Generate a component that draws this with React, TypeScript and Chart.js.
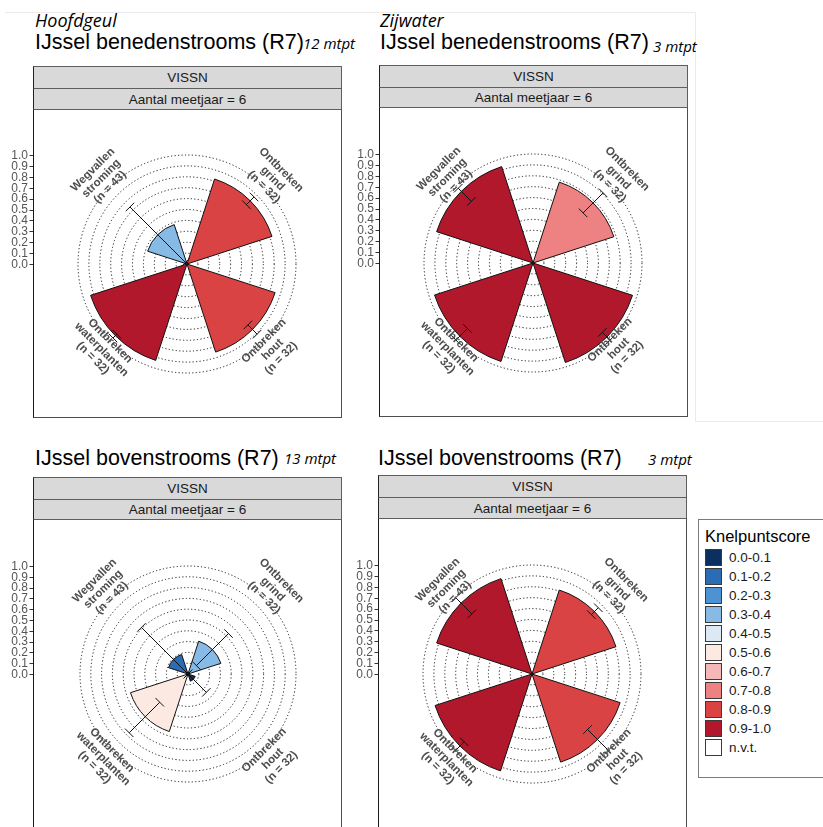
import React, { useEffect, useRef } from 'react';
import { Chart, registerables } from 'chart.js';

Chart.register(...registerables);

// ---------------- data ----------------
const categories = ['Ontbreken grind', 'Ontbreken hout', 'Ontbreken waterplanten', 'Wegvallen stroming'];
const categoryLines: string[][] = [
  ['Ontbreken', 'grind', '(n = 32)'],
  ['Ontbreken', 'hout', '(n = 32)'],
  ['Ontbreken', 'waterplanten', '(n = 32)'],
  ['Wegvallen', 'stroming', '(n = 43)'],
];
const radialTicks = [0, 0.1, 0.2, 0.3, 0.4, 0.5, 0.6, 0.7, 0.8, 0.9, 1.0];
const radialTickLabels = ['0.0', '0.1', '0.2', '0.3', '0.4', '0.5', '0.6', '0.7', '0.8', '0.9', '1.0'];

// Hoofdgeul – IJssel benedenstrooms (R7)
const hoofdBenedenValues = [0.82, 0.85, 0.93, 0.38];
const hoofdBenedenLow = [0.77, 0.79, 0.91, 0.02];
const hoofdBenedenHigh = [0.87, 0.91, 0.96, 0.74];
// Zijwater – IJssel benedenstrooms (R7)
const zijBenedenValues = [0.78, 0.96, 0.95, 0.93];
const zijBenedenLow = [0.65, 0.9, 0.85, 0.8];
const zijBenedenHigh = [0.91, 1.0, 1.0, 0.97];
// Hoofdgeul – IJssel bovenstrooms (R7)
const hoofdBovenValues = [0.32, 0.07, 0.56, 0.19];
const hoofdBovenLow = [0.11, 0.0, 0.37, 0.0];
const hoofdBovenHigh = [0.53, 0.24, 0.77, 0.61];
// Zijwater – IJssel bovenstrooms (R7)
const zijBovenValues = [0.81, 0.85, 0.935, 0.92];
const zijBovenLow = [0.77, 0.72, 0.88, 0.78];
const zijBovenHigh = [0.86, 0.99, 0.99, 0.99];

const binLabels = ['0.0-0.1', '0.1-0.2', '0.2-0.3', '0.3-0.4', '0.4-0.5', '0.5-0.6', '0.6-0.7', '0.7-0.8', '0.8-0.9', '0.9-1.0', 'n.v.t.'];
const binColors = ['#0B2F5E', '#2B6CB5', '#4D92D2', '#87BBE6', '#DCE9F4', '#FCEAE2', '#F5B7B7', '#EE8181', '#DA4343', '#B1182B', '#FFFFFF'];

// wedge geometry (degrees)
const wedgeAngle = 54;
const gapAngle = 36;
const firstWedgeStart = 18;

function colorFor(v: number) {
  const idx = Math.min(9, Math.max(0, Math.floor(v * 10 + 1e-9)));
  return binColors[idx];
}

const SANS = '"Liberation Sans", Arial, Helvetica, sans-serif';
const OPEN = '"Open Sans", "Liberation Sans", sans-serif';

type PanelSpec = {
  left: number; right: number; stripTop: number; stripMid: number; stripBot: number; plotBottom: number;
  cx: number; cy: number; R: number;
  values: number[]; low: number[]; high: number[];
};

const panels: PanelSpec[] = [
  { left: 33, right: 342, stripTop: 66, stripMid: 88, stripBot: 110, plotBottom: 418, cx: 187, cy: 264, R: 109,
    values: hoofdBenedenValues, low: hoofdBenedenLow, high: hoofdBenedenHigh },
  { left: 379, right: 688, stripTop: 65, stripMid: 87, stripBot: 108, plotBottom: 417, cx: 533, cy: 263, R: 109,
    values: zijBenedenValues, low: zijBenedenLow, high: zijBenedenHigh },
  { left: 33, right: 342, stripTop: 477, stripMid: 499, stripBot: 520, plotBottom: 829, cx: 188, cy: 674, R: 108,
    values: hoofdBovenValues, low: hoofdBovenLow, high: hoofdBovenHigh },
  { left: 378, right: 687, stripTop: 475, stripMid: 497, stripBot: 519, plotBottom: 829, cx: 532, cy: 674, R: 109,
    values: zijBovenValues, low: zijBovenLow, high: zijBovenHigh },
];

function makePlugin(spec: PanelSpec, axisX: number) {
  return {
    id: 'roseExtras',
    afterDatasetsDraw(chart: any) {
      const ctx = chart.ctx as CanvasRenderingContext2D;
      const scale = chart.scales.r;
      const meta = chart.getDatasetMeta(0);
      const xc = scale.xCenter;
      const yc = scale.yCenter;
      ctx.save();
      // error bars
      ctx.strokeStyle = '#111';
      ctx.lineWidth = 1;
      spec.values.forEach((_, i) => {
        const arc = meta.data[i * 2];
        const mid = (arc.startAngle + arc.endAngle) / 2;
        const r0 = scale.getDistanceFromCenterForValue(spec.low[i]);
        const r1 = scale.getDistanceFromCenterForValue(spec.high[i]);
        const c = Math.cos(mid), s = Math.sin(mid);
        const px = -s, py = c;
        const cap = 6;
        ctx.beginPath();
        ctx.moveTo(xc + r0 * c, yc + r0 * s);
        ctx.lineTo(xc + r1 * c, yc + r1 * s);
        [r0, r1].forEach((r) => {
          ctx.moveTo(xc + r * c - cap * px, yc + r * s - cap * py);
          ctx.lineTo(xc + r * c + cap * px, yc + r * s + cap * py);
        });
        ctx.stroke();
      });
      // category labels
      ctx.fillStyle = '#4D4D4D';
      ctx.font = `bold 11.5px ${SANS}`;
      ctx.textAlign = 'center';
      ctx.textBaseline = 'middle';
      const rl = scale.getDistanceFromCenterForValue(1.11);
      const lh = 12.2;
      categoryLines.forEach((lines, i) => {
        const arc = meta.data[i * 2];
        const mid = (arc.startAngle + arc.endAngle) / 2;
        const x = xc + rl * Math.cos(mid);
        const y = yc + rl * Math.sin(mid);
        const top = Math.sin(mid) < 0;
        const rot = top ? mid + Math.PI / 2 : mid - Math.PI / 2;
        ctx.save();
        ctx.translate(x, y);
        ctx.rotate(rot);
        lines.forEach((t, j) => ctx.fillText(t, 0, (j - 1) * lh));
        ctx.restore();
      });
      // left radial axis
      ctx.font = `12px ${SANS}`;
      ctx.textAlign = 'right';
      ctx.fillStyle = '#555555';
      ctx.strokeStyle = '#333';
      radialTicks.forEach((v, i) => {
        const y = yc - scale.getDistanceFromCenterForValue(v);
        ctx.fillText(radialTickLabels[i], axisX - 5, y + 0.5);
        ctx.beginPath();
        ctx.moveTo(axisX - 3.5, Math.round(y) + 0.5);
        ctx.lineTo(axisX, Math.round(y) + 0.5);
        ctx.stroke();
      });
      ctx.restore();
    },
  };
}

function PolarPanel({ spec }: { spec: PanelSpec }) {
  const ref = useRef<HTMLCanvasElement>(null);
  const canvasLeft = spec.left - 33;
  const canvasTop = spec.stripBot;
  const width = spec.right - canvasLeft;
  const height = spec.plotBottom - canvasTop;
  useEffect(() => {
    const cxc = spec.cx - canvasLeft;
    const cyc = spec.cy - canvasTop;
    const padding = {
      left: cxc - spec.R,
      right: width - cxc - spec.R,
      top: cyc - spec.R,
      bottom: height - cyc - spec.R,
    };
    const data: number[] = [];
    const bg: string[] = [];
    const bw: number[] = [];
    const ang: number[] = [];
    const labels: string[] = [];
    spec.values.forEach((v, i) => {
      data.push(v, 0);
      bg.push(colorFor(v), 'rgba(0,0,0,0)');
      bw.push(1, 0);
      ang.push(wedgeAngle, gapAngle);
      labels.push(categories[i], '');
    });
    const chart = new Chart(ref.current as HTMLCanvasElement, {
      type: 'polarArea',
      data: {
        labels,
        datasets: [
          {
            data,
            backgroundColor: bg,
            borderColor: '#111111',
            borderWidth: bw,
            angle: ang,
          } as any,
        ],
      },
      options: {
        responsive: false,
        animation: false,
        devicePixelRatio: 1,
        layout: { padding },
        plugins: { legend: { display: false }, tooltip: { enabled: false } },
        scales: {
          r: {
            min: 0,
            max: 1,
            startAngle: firstWedgeStart,
            ticks: { display: false, stepSize: 0.1 },
            grid: { circular: true, color: '#1a1a1a', lineWidth: 1 },
            border: { dash: [1.2, 2.3] },
            angleLines: { display: false },
            pointLabels: { display: false },
          } as any,
        },
      } as any,
      plugins: [makePlugin(spec, 33)],
    });
    return () => chart.destroy();
  }, []);
  return (
    <canvas
      ref={ref}
      width={width}
      height={height}
      style={{ position: 'absolute', left: canvasLeft, top: canvasTop, width, height }}
    />
  );
}

function Txt(props: { x: number; baseline: number; size: number; italic?: boolean; open?: boolean; children: any; color?: string }) {
  const ratio = props.open ? 0.888 : 0.8465;
  return (
    <div
      style={{
        position: 'absolute',
        left: props.x,
        top: props.baseline - ratio * props.size,
        fontSize: props.size,
        lineHeight: `${props.size}px`,
        fontFamily: props.open ? OPEN : SANS,
        fontStyle: props.italic ? 'italic' : 'normal',
        whiteSpace: 'nowrap',
        color: props.color || '#000',
      }}
    >
      {props.children}
    </div>
  );
}

function PanelFrame({ spec }: { spec: PanelSpec }) {
  const w = spec.right - spec.left;
  const stripStyle = (top: number, h: number) => ({
    position: 'absolute' as const,
    left: spec.left,
    top,
    width: w,
    height: h,
    boxSizing: 'border-box' as const,
    background: '#D9D9D9',
    border: '1px solid #5E5E5E',
    borderLeft: '1.5px solid #222',
    fontFamily: SANS,
    fontSize: 13.5,
    color: '#1A1A1A',
    display: 'flex',
    alignItems: 'center',
    justifyContent: 'center',
  });
  return (
    <>
      <div style={{
        position: 'absolute', left: spec.left, top: spec.stripBot - 1, width: w,
        height: spec.plotBottom - spec.stripBot + 1, boxSizing: 'border-box', background: '#fff',
        border: '1px solid #4D4D4D', borderLeft: '1.5px solid #1A1A1A',
      }} />
      <div style={stripStyle(spec.stripTop, spec.stripMid - spec.stripTop + 1)}>VISSN</div>
      <div style={stripStyle(spec.stripMid, spec.stripBot - spec.stripMid)}>Aantal meetjaar = 6</div>
    </>
  );
}

export default function App() {
  return (
    <div style={{ position: 'fixed', left: 0, top: 0, width: 823, height: 827, background: '#fff', overflow: 'hidden' }}>
      {/* faint frames of the source images */}
      <div style={{ position: 'absolute', left: 5, top: 12, width: 690, height: 1, background: '#EBEBEB' }} />
      <div style={{ position: 'absolute', left: 695, top: 12, width: 1, height: 409, background: '#EBEBEB' }} />
      <div style={{ position: 'absolute', left: 695, top: 421, width: 128, height: 1, background: '#EBEBEB' }} />

      <Txt x={35} baseline={27} size={18} italic open>Hoofdgeul</Txt>
      <Txt x={380} baseline={27} size={18} italic open>Zijwater</Txt>

      <Txt x={35} baseline={50} size={21.5}>IJssel benedenstrooms (R7)</Txt>
      <Txt x={303} baseline={49.5} size={15} italic open>12 mtpt</Txt>
      <Txt x={380} baseline={50} size={21.5}>IJssel benedenstrooms (R7)</Txt>
      <Txt x={653} baseline={52} size={15} italic open>3 mtpt</Txt>

      <Txt x={35} baseline={466} size={21.5}>IJssel bovenstrooms (R7)</Txt>
      <Txt x={284} baseline={464} size={15} italic open>13 mtpt</Txt>
      <Txt x={378} baseline={466} size={21.5}>IJssel bovenstrooms (R7)</Txt>
      <Txt x={648} baseline={465} size={15} italic open>3 mtpt</Txt>

      {panels.map((p, i) => (
        <PanelFrame key={'f' + i} spec={p} />
      ))}
      {panels.map((p, i) => (
        <PolarPanel key={'c' + i} spec={p} />
      ))}

      {/* legend */}
      <div style={{
        position: 'absolute', left: 698, top: 519, width: 140, height: 259, boxSizing: 'border-box',
        border: '1px solid #7A7A7A', background: '#fff',
      }} />
      <Txt x={705} baseline={542} size={16.5}>Knelpuntscore</Txt>
      {binLabels.map((lab, i) => (
        <React.Fragment key={lab}>
          <div style={{
            position: 'absolute', left: 705, top: 549 + i * 19, width: 17, height: 17, boxSizing: 'border-box',
            background: binColors[i], border: '1px solid #3A3A3A',
          }} />
          <Txt x={729} baseline={562 + i * 19} size={13.5} color="#1A1A1A">{lab}</Txt>
        </React.Fragment>
      ))}
    </div>
  );
}
